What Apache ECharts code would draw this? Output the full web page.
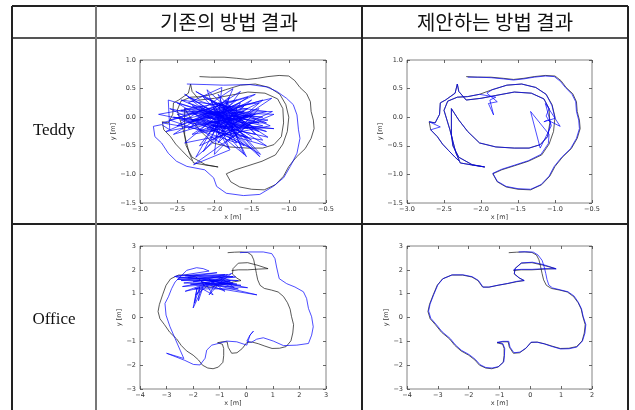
<!DOCTYPE html>
<html>
<head>
<meta charset="utf-8">
<script src="https://cdn.jsdelivr.net/npm/echarts@6/dist/echarts.min.js"></script>
<style>
  html, body { margin: 0; background: #fff; }
  #main { width: 635px; height: 410px; }
</style>
</head>
<body>
<div id="main"></div>
<script>
// table headings
var colTitles = ['기존의 방법 결과', '제안하는 방법 결과'];
var rowTitles = ['Teddy', 'Office'];

// axis ranges [min, max, step]
var teddyX = [-3.0, -0.5, 0.5];
var teddyY = [-1.5, 1.0, 0.5];
var officeX1 = [-4, 3, 1];
var officeX2 = [-4, 2, 1];
var officeY = [-3, 3, 1];

// ground truth, Teddy sequence
var teddyTruth = [
  [-2.20,0.71],[-2.05,0.70],[-1.87,0.70],[-1.70,0.68],[-1.56,0.66],[-1.42,0.68],[-1.28,0.71],[-1.13,0.73],
  [-1.00,0.72],[-0.92,0.64],[-0.85,0.52],[-0.76,0.41],[-0.71,0.27],[-0.70,0.10],[-0.67,-0.05],[-0.66,-0.20],
  [-0.70,-0.37],[-0.78,-0.55],[-0.90,-0.70],[-1.00,-0.86],[-1.07,-1.03],[-1.18,-1.18],[-1.33,-1.27],[-1.50,-1.26],
  [-1.66,-1.22],[-1.78,-1.13],[-1.84,-0.99],[-1.72,-0.92],[-1.55,-0.85],[-1.36,-0.77],[-1.18,-0.66],[-1.08,-0.47],
  [-1.02,-0.25],[-1.00,0.00],[-1.04,0.22],[-1.12,0.40],[-1.26,0.52],[-1.45,0.58],[-1.65,0.56],[-1.85,0.48],
  [-2.02,0.40],[-2.18,0.36],[-2.32,0.35],[-2.45,0.28],[-2.50,0.12],[-2.46,-0.05],[-2.42,-0.22],[-2.38,-0.42],
  [-2.34,-0.62],[-2.28,-0.80],[-2.10,-0.84],[-1.95,-0.87],[-2.12,-0.83],[-2.30,-0.70],[-2.38,-0.50],[-2.40,-0.30],
  [-2.40,0.15],[-2.30,-0.05],[-2.18,-0.25],[-2.02,-0.45],[-1.80,-0.52],[-1.55,-0.54],[-1.35,-0.54],[-1.20,-0.48],
  [-1.10,-0.34],[-1.07,-0.10],[-1.08,0.15],[-1.15,0.32],[-1.32,0.42],[-1.55,0.44],[-1.80,0.38],[-2.00,0.33],
  [-2.20,0.30],[-2.30,0.45],[-2.32,0.58],[-2.35,0.42],[-2.48,0.30],[-2.55,0.25],[-2.56,0.05],[-2.62,-0.10],
  [-2.70,-0.08],[-2.68,-0.22],[-2.59,-0.34],[-2.52,-0.47],[-2.44,-0.58],[-2.35,-0.70],[-2.30,-0.76]
];

// baseline estimate, Teddy
var teddyBaseline = [
  [-2.37,0.58],[-2.10,0.57],[-1.88,0.56],[-1.52,0.57],[-1.30,0.53],[-1.16,0.45],[-1.03,0.33],[-0.94,0.22],
  [-0.89,0.04],[-0.87,-0.22],[-0.85,-0.37],[-0.89,-0.63],[-0.98,-0.86],[-1.07,-1.06],[-1.21,-1.21],[-1.39,-1.35],
  [-1.61,-1.37],[-1.84,-1.33],[-1.97,-1.21],[-2.01,-1.06],[-2.13,-0.92],[-2.37,-0.86],[-2.51,-0.77],[-2.62,-0.63],
  [-2.71,-0.45],[-2.80,-0.34],[-2.82,-0.16],[-2.71,-0.13],[-2.60,-0.22],
  [-2.62,0.30],[-1.60,-0.10],[-2.45,0.12],[-1.28,-0.05],[-2.30,-0.30],[-1.55,0.35],[-2.70,-0.10],[-1.35,-0.40],
  [-2.10,0.48],[-1.80,-0.55],[-2.50,0.05],[-1.22,0.10],[-2.20,-0.50],[-1.65,0.45],[-2.55,-0.30],[-1.40,0.15],
  [-2.00,-0.65],[-1.90,0.52],[-2.35,0.25],[-1.30,-0.25],[-2.60,0.15],[-1.50,-0.55],[-2.15,0.35],[-1.25,-0.15],
  [-2.40,-0.45],[-1.70,0.30],[-2.75,0.05],[-1.45,-0.30],[-1.95,0.40],[-1.60,-0.65],[-2.30,0.10],[-1.20,0.05],
  [-2.05,-0.40],[-1.75,0.50],[-2.50,-0.15],[-1.35,0.30],[-2.25,-0.70],[-1.85,0.20],[-2.65,-0.25],[-1.50,0.05],
  [-2.10,-0.20],[-1.30,-0.50],[-2.40,0.40],[-1.65,-0.20],[-2.00,0.10],[-1.40,-0.10],[-2.20,0.20],[-1.55,-0.35],
  [-2.45,-0.05],[-1.23,0.33],[-1.95,-0.30],[-1.80,0.35],[-2.35,-0.20],[-1.45,0.40],[-2.60,-0.05],[-1.70,-0.45],
  [-2.05,0.30],[-1.28,-0.35],[-2.30,-0.05],[-1.60,0.20],[-2.15,-0.60],[-1.90,0.00],[-2.50,0.25],[-1.38,-0.65],
  [-2.00,0.25],[-1.50,-0.10],[-2.28,-0.83],[-1.79,-0.57],[-2.10,0.05],[-1.35,0.00],[-2.40,0.15],[-1.65,-0.05],
  [-1.95,-0.45],[-1.75,0.10],[-2.25,0.45],[-1.45,-0.20],[-2.55,0.00],[-1.20,-0.20],[-2.05,-0.15],[-1.85,-0.20],
  [-2.35,0.35],[-1.55,0.00],[-2.15,-0.10],[-1.60,-0.50],[-1.98,0.15],[-1.40,0.25],[-2.20,-0.25],[-1.70,-0.10],
  [-2.45,0.30],[-1.30,0.10],[-1.90,-0.10],[-1.50,0.30],[-2.00,-0.05],[-1.57,-0.69],[-1.85,0.05],[-1.39,-0.69],
  [-2.10,0.15],[-1.60,0.10],[-2.25,-0.05],[-1.45,0.05],[-2.05,-0.25],[-1.55,0.15],[-2.20,0.05],[-1.40,-0.25],
  [-1.95,0.10],[-1.70,-0.30],[-2.30,0.20],[-1.60,-0.15],[-1.85,0.30],[-1.75,-0.20],[-2.10,-0.05],[-1.50,-0.40],
  [-2.00,0.05],[-1.35,-0.15],[-1.90,-0.25],[-1.65,0.25],[-2.15,0.00],[-1.45,-0.05],[-1.80,-0.40],[-1.70,0.15],
  [-2.35,-0.10],[-1.55,-0.20],[-1.95,0.25],[-1.30,-0.10],[-2.05,-0.10],[-1.60,0.00]
];

// proposed estimate, Teddy
var teddyProposed = [
  [-2.18,0.70],[-2.03,0.70],[-1.86,0.69],[-1.70,0.67],[-1.56,0.65],[-1.42,0.67],[-1.28,0.70],[-1.13,0.72],
  [-1.01,0.71],[-0.93,0.63],[-0.86,0.52],[-0.77,0.40],[-0.72,0.27],[-0.71,0.10],[-0.68,-0.05],[-0.67,-0.20],
  [-0.71,-0.37],[-0.79,-0.55],[-0.91,-0.70],[-1.01,-0.86],[-1.08,-1.03],[-1.19,-1.18],[-1.33,-1.26],[-1.50,-1.25],
  [-1.66,-1.21],[-1.78,-1.12],[-1.84,-0.98],[-1.72,-0.91],[-1.55,-0.84],[-1.36,-0.76],[-1.19,-0.65],[-1.09,-0.46],
  [-1.08,-0.30],[-1.33,0.10],[-1.20,-0.54],[-1.05,-0.15],[-1.13,0.24],[-0.93,-0.16],[-1.10,-0.05],[-1.15,-0.08],
  [-1.00,-0.02],[-1.04,0.20],[-1.12,0.40],[-1.26,0.52],[-1.45,0.58],[-1.65,0.56],[-1.85,0.48],[-1.92,0.42],
  [-1.78,0.27],[-1.90,0.24],[-1.83,0.04],[-1.88,0.30],[-1.80,0.35],[-2.02,0.40],[-2.18,0.36],[-2.32,0.35],
  [-2.45,0.28],[-2.50,0.12],[-2.46,-0.05],[-2.42,-0.22],[-2.38,-0.42],[-2.34,-0.62],[-2.28,-0.80],[-2.10,-0.84],
  [-1.95,-0.87],[-2.12,-0.83],[-2.30,-0.70],[-2.38,-0.50],[-2.40,-0.30],[-2.40,0.15],[-2.30,-0.05],[-2.18,-0.25],
  [-2.02,-0.45],[-1.80,-0.52],[-1.55,-0.54],[-1.35,-0.54],[-1.20,-0.48],[-1.10,-0.34],[-1.06,-0.10],[-1.12,0.02],
  [-1.08,0.15],[-1.15,0.32],[-1.32,0.42],[-1.55,0.44],[-1.80,0.38],[-2.00,0.33],[-2.20,0.30],[-2.30,0.45],
  [-2.32,0.58],[-2.35,0.42],[-2.48,0.30],[-2.55,0.25],[-2.56,0.05],[-2.62,-0.10],[-2.70,-0.08],[-2.55,-0.17],
  [-2.68,-0.22],[-2.59,-0.34],[-2.52,-0.47],[-2.44,-0.58],[-2.35,-0.70],[-2.30,-0.76]
];

// ground truth, Office sequence
var officeTruth = [
  [-0.70,2.72],[-0.45,2.74],[-0.20,2.75],[0.05,2.73],[0.20,2.62],[0.28,2.42],[0.33,2.15],[0.38,1.85],
  [0.43,1.58],[0.52,1.35],[0.68,1.22],[0.95,1.15],[1.20,1.07],[1.40,0.88],[1.55,0.62],[1.65,0.35],
  [1.70,0.05],[1.78,-0.30],[1.75,-0.65],[1.68,-0.98],[1.50,-1.22],[1.25,-1.29],[0.97,-1.30],[0.70,-1.20],
  [0.45,-1.10],[0.22,-1.03],[0.02,-1.05],[-0.15,-1.30],[-0.35,-1.48],[-0.55,-1.50],[-0.68,-1.25],[-0.72,-1.02],
  [-0.90,-1.02],[-1.08,-1.06],[-0.90,-1.12],[-0.85,-1.30],[-0.85,-1.60],[-0.88,-1.88],[-1.05,-2.08],[-1.25,-2.15],
  [-1.45,-2.12],[-1.65,-2.00],[-1.80,-1.78],[-2.00,-1.58],[-2.25,-1.40],[-2.45,-1.17],[-2.62,-0.90],[-2.88,-0.62],
  [-3.08,-0.30],[-3.25,-0.05],[-3.32,0.25],[-3.27,0.55],[-3.15,0.95],[-3.02,1.35],[-2.85,1.62],[-2.55,1.78],
  [-2.20,1.78],[-1.90,1.70],[-1.70,1.55],[-1.55,1.28],[-1.35,1.27],[-1.05,1.35],[-0.75,1.42],[-0.45,1.50],
  [-0.20,1.55],[-0.35,1.65],[-0.52,1.82],[-0.50,2.05],[-0.30,2.28],[0.05,2.30],[0.40,2.20],[0.82,2.05],
  [0.45,2.03],[0.05,2.00],[-0.30,2.00],[-0.55,1.97]
];

// baseline estimate, Office
var officeBaseline = [
  [-0.24,2.72],[0.14,2.75],[0.64,2.75],[0.96,2.68],[1.08,2.47],[1.14,2.12],[1.24,1.63],[1.52,1.42],
  [1.83,1.28],[2.15,1.08],[2.27,0.80],[2.34,0.38],[2.46,0.03],[2.52,-0.39],[2.46,-0.74],[2.34,-1.09],
  [1.90,-1.16],[1.40,-1.18],[1.02,-0.99],[0.64,-0.85],[0.39,-0.91],[0.20,-1.04],[0.02,-0.99],[0.14,-0.74],
  [0.27,-0.57],[0.14,-0.74],[0.02,-1.16],[-0.36,-1.02],[-0.74,-0.99],[-1.05,-1.09],[-1.30,-1.16],[-1.49,-1.37],
  [-1.55,-1.71],[-1.74,-1.99],[-1.99,-1.97],[-2.31,-1.80],[-3.00,-1.50],[-2.35,-1.72],[-2.49,-1.37],[-2.68,-0.88],
  [-2.87,-0.39],[-3.02,0.10],[-3.06,0.59],[-2.93,0.87],[-2.81,1.21],[-2.68,1.49],[-2.49,1.70],[-2.24,1.98],
  [-1.87,2.09],[-1.62,2.05],[-1.40,1.95],
  [-2.70,1.72],[-1.10,1.88],[-2.55,1.65],[-0.80,1.80],[-2.30,1.75],[-0.50,1.72],[-2.60,1.60],[-0.60,1.50],
  [-2.20,1.68],[-0.30,1.55],[-2.45,1.55],[-0.70,1.80],[-2.00,1.50],[-0.20,1.35],[-2.35,1.45],[-0.40,1.70],
  [-1.80,1.65],[0.05,1.25],[-2.10,1.40],[-0.50,1.45],[-2.40,1.30],[-0.90,1.60],[-1.95,1.20],[-0.30,1.20],
  [-1.70,1.50],[0.40,0.95],[-1.50,1.30],[-2.30,1.10],[-1.20,1.55],[-1.90,0.95],[-1.60,1.35],[-2.00,0.40],
  [-1.85,1.25],[-1.95,0.60],[-1.75,1.30],[-1.80,0.70],[-1.65,1.20],[-1.25,0.95],[-1.55,1.45],[-0.80,1.10],
  [-1.40,1.60],[-0.45,1.25],[-1.00,1.70],[-0.60,1.55],[-1.20,1.35],[-1.40,0.95],[-0.95,1.50],[-0.55,1.85],
  [-1.30,1.50],[-0.35,1.40],[-2.65,1.70]
];

// proposed estimate, Office
var officeProposed = [
  [-0.38,2.75],[-0.15,2.76],[0.10,2.74],[0.25,2.62],[0.38,2.40],[0.45,2.12],[0.50,1.85],[0.54,1.60],
  [0.60,1.36],[0.72,1.24],[0.97,1.16],[1.22,1.08],[1.42,0.90],[1.56,0.63],[1.66,0.36],[1.71,0.06],
  [1.80,-0.30],[1.77,-0.66],[1.69,-0.99],[1.51,-1.24],[1.26,-1.31],[0.98,-1.32],[0.71,-1.22],[0.46,-1.11],
  [0.23,-1.04],[0.03,-1.03],[-0.13,-1.27],[-0.33,-1.45],[-0.53,-1.48],[-0.66,-1.24],[-0.70,-1.00],[-0.89,-1.00],
  [-1.07,-1.04],[-0.89,-1.10],[-0.83,-1.30],[-0.84,-1.60],[-0.86,-1.86],[-1.03,-2.06],[-1.24,-2.12],[-1.44,-2.10],
  [-1.63,-1.98],[-1.78,-1.76],[-1.98,-1.56],[-2.23,-1.38],[-2.43,-1.15],[-2.60,-0.88],[-2.86,-0.60],[-3.06,-0.28],
  [-3.23,-0.03],[-3.30,0.27],[-3.25,0.57],[-3.13,0.97],[-3.00,1.37],[-2.83,1.63],[-2.53,1.79],[-2.18,1.79],
  [-1.88,1.71],[-1.68,1.55],[-1.53,1.27],[-1.33,1.28],[-1.03,1.36],[-0.73,1.43],[-0.43,1.52],[-0.20,1.55],
  [-0.37,1.67],[-0.52,1.84],[-0.49,2.06],[-0.28,2.29],[0.07,2.32],[0.42,2.22],[0.84,2.04],[0.46,2.05],
  [0.06,2.02],[-0.28,2.02],[-0.55,2.00]
];

var myChart = echarts.init(document.getElementById('main'));

var panels = [
  { box: [140, 60, 186, 143], xr: teddyX, yr: teddyY, dec: 1, truth: teddyTruth, est: teddyBaseline },
  { box: [407, 60, 185, 143], xr: teddyX, yr: teddyY, dec: 1, truth: teddyTruth, est: teddyProposed },
  { box: [140, 246, 186, 143], xr: officeX1, yr: officeY, dec: 0, truth: officeTruth, est: officeBaseline },
  { box: [407, 246, 185, 143], xr: officeX2, yr: officeY, dec: 0, truth: officeTruth, est: officeProposed }
];

function fmt(dec) {
  return function (v) {
    return v.toFixed(dec).replace('-', '\u2212');
  };
}

var tickStyle = { show: true, inside: true, length: 3, lineStyle: { color: '#444', width: 0.8 } };
var labelStyle = { fontSize: 6.5, color: '#333', fontFamily: 'DejaVu Sans' };
var noLine = { show: false, onZero: false };

var grids = [], xAxes = [], yAxes = [], series = [];
panels.forEach(function (p, i) {
  grids.push({
    left: p.box[0], top: p.box[1], width: p.box[2], height: p.box[3],
    show: true, borderColor: '#666', borderWidth: 0.8, backgroundColor: '#fff'
  });
  var xBase = { type: 'value', gridIndex: i, min: p.xr[0], max: p.xr[1], interval: p.xr[2],
    splitLine: { show: false }, axisLine: noLine, axisTick: tickStyle };
  var yBase = { type: 'value', gridIndex: i, min: p.yr[0], max: p.yr[1], interval: p.yr[2],
    splitLine: { show: false }, axisLine: noLine, axisTick: tickStyle };
  xAxes.push(Object.assign({}, xBase, {
    position: 'bottom',
    axisLabel: Object.assign({ margin: 3, formatter: fmt(p.dec) }, labelStyle),
    name: 'x [m]', nameLocation: 'middle', nameGap: 11, nameTextStyle: labelStyle
  }));
  xAxes.push(Object.assign({}, xBase, { position: 'top', axisLabel: { show: false } }));
  yAxes.push(Object.assign({}, yBase, {
    position: 'left',
    axisLabel: Object.assign({ margin: 4, formatter: fmt(p.dec) }, labelStyle),
    name: 'y [m]', nameLocation: 'middle', nameGap: p.dec ? 20 : 14, nameRotate: 90, nameTextStyle: labelStyle
  }));
  yAxes.push(Object.assign({}, yBase, { position: 'right', axisLabel: { show: false } }));
  series.push({
    type: 'line', xAxisIndex: 2 * i, yAxisIndex: 2 * i, data: p.truth,
    showSymbol: false, symbol: 'none', lineStyle: { color: '#111', width: 0.7 }, z: 2
  });
  series.push({
    type: 'line', xAxisIndex: 2 * i, yAxisIndex: 2 * i, data: p.est,
    showSymbol: false, symbol: 'none', lineStyle: { color: '#0000ff', width: 0.7 }, z: 3
  });
});

function hline(x1, x2, y, c) {
  return { type: 'line', shape: { x1: x1, y1: y, x2: x2, y2: y }, style: { stroke: c, lineWidth: 2 }, z: 10 };
}
function vline(x, y1, y2, c) {
  return { type: 'line', shape: { x1: x, y1: y1, x2: x, y2: y2 }, style: { stroke: c, lineWidth: 2 }, z: 10 };
}
function label(text, x, y, font) {
  return { type: 'text', x: x, y: y, z: 11,
    style: { text: text, font: font, fill: '#111', align: 'center', verticalAlign: 'middle' } };
}

var graphics = [
  hline(12, 628, 6, '#222'),
  hline(12, 628, 38, '#555'),
  hline(12, 628, 224, '#222'),
  vline(12, 6, 410, '#222'),
  vline(96, 6, 410, '#777'),
  vline(362, 6, 410, '#222'),
  vline(628, 6, 410, '#222'),
  label(colTitles[0], 229, 22, '20px "Noto Sans CJK KR"'),
  label(colTitles[1], 495, 22, '20px "Noto Sans CJK KR"'),
  label(rowTitles[0], 54, 131, '17px "Liberation Serif"'),
  label(rowTitles[1], 54, 320, '17px "Liberation Serif"')
];

var option = {
  animation: false,
  backgroundColor: '#fff',
  grid: grids,
  xAxis: xAxes,
  yAxis: yAxes,
  series: series,
  graphic: graphics
};

option && myChart.setOption(option);
</script>
</body>
</html>
